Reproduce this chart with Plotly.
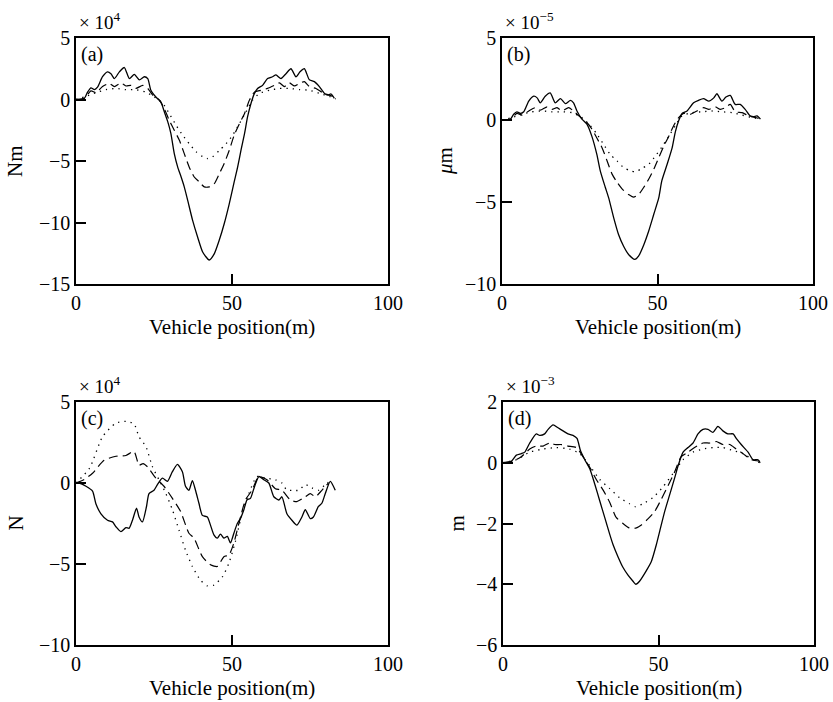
import plotly.graph_objects as go

# ---------------- data (x in m, y in units of the panel multiplier) ----------------
a_solid = [(0,0),(2.7,0.1),(3.7,0.6),(4.8,0.95),(5.9,0.8),(6.9,1.0),(8.5,1.85),(10.1,2.25),(11.2,2.1),(12.3,1.7),
           (13.9,2.25),(15.5,2.6),(17.1,1.7),(18.7,2.05),(20.3,1.6),(21.9,1.85),(23,1.7),(24,0.75),(25.6,0.2),(27.2,-0.2),
           (28.3,-1.0),(29.4,-1.8),(30.4,-2.75),(31.5,-4.4),(32.6,-5.5),(33.7,-6.3),(34.7,-7.1),(35.8,-8.2),(37.4,-9.85),(39,-11.2),
           (40.6,-12.4),(42.7,-13.05),(44.3,-12.55),(45.9,-11.45),(47.5,-10.1),(49.1,-8.5),(50.7,-6.7),(51.8,-5.5),(52.9,-4.1),(54,-2.8),
           (55,-1.4),(56.1,-0.3),(57.2,0.5),(58.2,0.9),(59.8,1.15),(61.4,1.7),(63,1.85),(64.1,2.0),(65.7,1.7),(67.3,2.1),
           (68.9,2.5),(70.5,1.85),(71.8,2.25),(73.2,2.5),(74.8,1.6),(76.4,1.45),(78,1.05),(79.6,0.5),(80.7,0.35),(81.7,0.45),(82.8,0.1)]
a_dash = [(0,0),(2.7,0.1),(4.8,0.7),(6.4,0.55),(8.5,1.05),(10.7,1.3),(12.3,1.05),(14.4,1.35),(16,1.1),(17.6,1.15),
          (19.2,0.9),(21.4,1.15),(23,0.9),(24.6,0.35),(26.7,-0.05),(28.3,-0.75),(29.9,-1.7),(31.5,-2.5),(33.1,-3.3),(34.7,-4.4),
          (36.3,-5.5),(37.9,-6.3),(39.5,-6.7),(41.1,-7.1),(42.7,-7.1),(44.3,-6.85),(45.9,-6.05),(47.5,-5.2),(49.1,-4.15),(50.7,-2.9),
          (52.4,-1.95),(54,-1.15),(55.6,-0.05),(57.2,0.6),(59.3,0.75),(61.4,0.9),(63.6,1.15),(65.2,1.35),(66.8,1.05),(68.4,1.35),
          (70,1.1),(71.6,1.3),(73.2,1.45),(74.8,1.05),(76.9,0.9),(79.1,0.55),(81.2,0.35),(82.3,0.25)]
a_dot = [(0,0),(3.2,0.25),(6.4,0.55),(9.6,0.8),(12.8,0.9),(16,0.8),(19.2,0.8),(22.4,0.6),(25.1,0.2),(27.8,-0.3),
         (29.9,-1.15),(32.1,-2.1),(34.2,-2.9),(36.3,-3.6),(38.5,-4.25),(40.6,-4.65),(42.2,-4.8),(43.8,-4.65),(45.9,-4.15),(48.1,-3.6),
         (50.2,-2.9),(52.4,-1.95),(54.5,-1.0),(56.6,-0.05),(58.8,0.5),(62,0.75),(65.2,0.9),(68.4,0.9),(71.6,0.8),(74.8,0.75),
         (78,0.5),(81.2,0.25),(83.3,0.05)]

b_solid = [(0,0),(2.7,0.05),(3.75,0.35),(4.8,0.5),(5.9,0.4),(7,0.5),(8.6,1.15),(10.2,1.45),(11.3,1.35),(12.3,1.05),
           (13.9,1.45),(15.5,1.65),(17.1,1.05),(18.8,1.3),(20.4,1.0),(22,1.2),(23,1.05),(24.1,0.55),(25.7,0.05),(27.3,-0.25),
           (28.9,-1.0),(30.5,-2.1),(31.6,-3.1),(33.2,-4.1),(34.3,-4.75),(35.9,-5.95),(37.5,-7.0),(39.1,-7.7),(40.7,-8.2),(42.7,-8.5),
           (43.9,-8.3),(45.6,-7.6),(47.2,-6.75),(48.8,-5.75),(50.4,-4.75),(51.4,-3.7),(53.1,-2.7),(54.7,-1.7),(55.7,-0.75),(56.8,-0.05),
           (57.9,0.4),(59.5,0.55),(61.6,1.05),(63.2,1.2),(64.8,1.3),(66.5,1.15),(68.1,1.35),(69.1,1.6),(70.7,1.15),(72,1.4),
           (73.4,1.5),(75,0.95),(76.6,0.95),(78.2,0.65),(79.8,0.25),(80.9,0.2),(82,0.25),(83.1,0.05)]
b_dash = [(0,0),(2.7,0.05),(4.8,0.4),(6.4,0.3),(8.6,0.55),(10.7,0.75),(12.3,0.6),(14.5,0.8),(16.1,0.65),(17.7,0.75),
          (19.3,0.55),(21.4,0.75),(23,0.55),(24.7,0.25),(27.3,-0.15),(28.9,-0.55),(30.5,-1.1),(32.2,-1.7),(33.8,-2.5),(35.4,-3.3),
          (37,-3.8),(38.6,-4.2),(40.7,-4.55),(42.3,-4.7),(43.9,-4.55),(45.6,-4.1),(47.2,-3.6),(48.8,-3.0),(50.4,-2.3),(52,-1.6),
          (53.6,-1.0),(55.2,-0.35),(56.8,0.15),(58.4,0.4),(60.6,0.35),(62.7,0.55),(64.8,0.75),(66.5,0.65),(68.6,0.8),(70.2,0.65),
          (71.8,0.75),(73.4,0.95),(75,0.5),(77.2,0.45),(79.3,0.25),(81.5,0.15),(82.5,0.1)]
b_dot = [(0,0),(3.2,0.15),(6.4,0.35),(9.6,0.5),(12.9,0.55),(16.1,0.5),(19.3,0.5),(22.5,0.45),(25.7,0.15),(28.4,-0.35),
         (30.5,-0.85),(32.7,-1.5),(34.8,-2.1),(37,-2.5),(39.1,-2.9),(41.3,-3.1),(42.9,-3.15),(45,-2.95),(47.2,-2.7),(49.3,-2.2),
         (51.4,-1.65),(53.6,-1.0),(55.7,-0.35),(57.9,0.25),(61.1,0.45),(64.3,0.5),(67.5,0.55),(70.7,0.5),(74,0.45),(77.2,0.3),
         (80.4,0.15),(83.1,0.05)]

c_solid = [(0,0),(1,0),(3.2,-0.2),(5.3,-0.5),(6.4,-1.3),(8,-1.9),(10.1,-2.3),(11.7,-2.4),(12.8,-2.7),(14.4,-3.0),
           (16,-2.75),(17,-2.8),(18.1,-2.3),(19.4,-1.55),(20.2,-2.1),(21.3,-2.4),(22.6,-1.45),(23.4,-0.65),(25,-0.45),(26.1,-0.1),
           (27.7,0.3),(29.3,0.1),(30.9,0.7),(32.5,1.15),(34.1,0.7),(35.1,-0.2),(36.2,-0.45),(37.3,0.15),(38.3,-0.45),(39.4,-1.25),
           (40.5,-2.0),(42.1,-2.1),(43.1,-2.6),(44.2,-3.2),(45.3,-3.4),(46.3,-3.15),(47.4,-3.4),(48.5,-3.3),(49.5,-3.7),(50.6,-3.1),
           (51.7,-2.5),(52.7,-2.2),(53.8,-1.65),(54.8,-1.05),(55.9,-0.95),(57,-0.35),(58.6,0.4),(60.2,0.2),(61.8,0),(63.4,-0.85),
           (65,-1.05),(66,-0.85),(67.6,-1.9),(69.2,-2.3),(70.8,-2.6),(72.4,-2.1),(73.5,-1.65),(75.1,-2.2),(76.1,-2.1),(77.7,-1.45),
           (78.8,-1.25),(79.9,-0.65),(81.5,0.1),(83.1,-0.45)]
c_dash = [(0,0),(2.5,0.2),(5.3,0.6),(9,1.4),(12.8,1.65),(16,1.7),(18.6,1.95),(20.2,1.1),(21.5,1.2),(22.9,1.0),
          (25.6,0.3),(28.2,-0.2),(30.9,-0.95),(33.5,-1.75),(36.2,-3.1),(37.8,-3.4),(40.5,-4.55),(43.1,-5.05),(45.3,-5.15),(47.4,-4.55),
          (49,-4.45),(50.6,-3.7),(52.2,-2.5),(54.3,-1.05),(56.4,-0.45),(58.6,0.4),(61.2,0.2),(63.9,-0.35),(66,-0.45),(68.7,-1.05),
          (70.8,-1.15),(73.5,-0.85),(75.1,-0.65),(76.7,-0.85),(78.8,-0.45),(80.9,0)]
c_dot = [(0,0),(4.3,0.9),(8.5,2.85),(12.8,3.7),(16,3.8),(18.6,3.65),(20.2,2.85),(22.4,2.25),(24.5,1.0),(26.6,0.2),
         (28.8,-0.65),(30.9,-1.65),(33,-2.9),(35.1,-4.15),(37.3,-5.15),(39.9,-6.0),(42.1,-6.35),(44.2,-6.3),(46.9,-5.8),(49,-4.95),
         (51.1,-3.6),(53.2,-1.9),(55.4,-0.65),(58,0.4),(60.7,0.3),(63.9,0.2),(66,0),(67.6,-0.45),(69.2,-0.45),(71.4,-0.45),
         (73.5,-0.1),(75.6,-0.3),(77.7,-0.45),(79.9,-0.1),(80.9,0.05)]

d_solid = [(0,0),(2.7,0.05),(4.3,0.25),(5.9,0.3),(7,0.35),(8.6,0.65),(10.7,0.95),(11.8,0.9),(13.4,0.95),(14.5,1.1),
           (16.1,1.25),(17.7,1.15),(19.3,1.05),(20.9,0.95),(22.5,0.9),(23.8,0.8),(24.9,0.4),(26.3,0.1),(27.9,-0.2),(29.5,-0.7),
           (31.1,-1.25),(32.7,-1.8),(34.3,-2.35),(35.4,-2.7),(37,-3.1),(38.6,-3.45),(40.2,-3.7),(41.8,-3.9),(42.7,-4.0),(43.9,-3.9),
           (46.1,-3.55),(47.7,-3.25),(49.3,-2.7),(50.4,-2.25),(52,-1.6),(53.6,-1.05),(55.2,-0.5),(56.3,-0.1),(57.9,0.35),(59.5,0.5),
           (61.1,0.65),(62.7,0.95),(64.3,1.1),(65.9,1.1),(67.5,1.0),(69.1,1.2),(70.7,1.05),(72.3,0.95),(74,0.95),(75,0.8),
           (76.6,0.6),(78.8,0.35),(80.4,0.1),(82,0.1),(82.7,0.0)]
d_dash = [(0,0),(3.2,0.05),(5.9,0.2),(8.6,0.45),(10.7,0.55),(12.9,0.55),(15,0.65),(16.6,0.6),(18.8,0.6),(20.9,0.55),
          (23.6,0.5),(25.7,0.2),(27.9,-0.15),(30,-0.55),(32.2,-0.9),(34.3,-1.3),(36.4,-1.8),(38.6,-2.0),(40.7,-2.15),(42.7,-2.15),
          (44.5,-2.05),(46.6,-1.85),(48.8,-1.6),(50.9,-1.2),(53.1,-0.75),(55.2,-0.3),(57.3,0.2),(59.5,0.35),(61.6,0.5),(64.3,0.65),
          (66.5,0.65),(68.6,0.7),(70.7,0.6),(72.9,0.6),(75,0.45),(77.2,0.3),(79.9,0.1),(82.5,0.05)]
d_dot = [(0,0),(4.3,0.1),(8.6,0.35),(12.9,0.45),(17.1,0.5),(21.4,0.45),(24.7,0.3),(27.9,-0.1),(31.1,-0.55),(34.3,-0.85),
         (37.5,-1.15),(40.7,-1.35),(42.7,-1.45),(45,-1.35),(48.2,-1.15),(51.4,-0.8),(54.7,-0.35),(57.9,0.1),(61.1,0.35),(64.3,0.45),
         (67.5,0.5),(70.7,0.5),(74,0.4),(77.2,0.3),(80.4,0.1),(82.5,0.0)]

x_ticks = [0, 50, 100]
y_ticks_a = [-15, -10, -5, 0, 5]
y_ticks_b = [-10, -5, 0, 5]
y_ticks_c = [-10, -5, 0, 5]
y_ticks_d = [-6, -4, -2, 0, 2]
panel_labels = ["(a)", "(b)", "(c)", "(d)"]
y_titles = ["Nm", "<i>μ</i>m", "N", "m"]
multipliers = ["× 10<sup>4</sup>", "× 10<sup>−5</sup>", "× 10<sup>4</sup>", "× 10<sup>−3</sup>"]
x_title = "Vehicle position(m)"

# ---------------- layout geometry (pixels of an 833x702 page) ----------------
W, H = 833, 702
boxes = [  # left, right, top, bottom in px
    (76, 388, 38, 284),
    (502, 813, 38, 284),
    (76, 388, 402, 645),
    (503, 814, 402, 645),
]
FONT = "Liberation Serif, Times New Roman, serif"

fig = go.Figure()
series = [(a_solid, a_dash, a_dot), (b_solid, b_dash, b_dot), (c_solid, c_dash, c_dot), (d_solid, d_dash, d_dot)]
yticks = [y_ticks_a, y_ticks_b, y_ticks_c, y_ticks_d]
styles = [dict(dash="solid", width=1.3), dict(dash="9px,5px", width=1.2), dict(dash="1.3px,5px", width=1.3)]

for i, (sets, yt, box) in enumerate(zip(series, yticks, boxes)):
    n = "" if i == 0 else str(i + 1)
    for pts, st in zip(sets, styles):
        fig.add_trace(go.Scatter(
            x=[p[0] for p in pts], y=[p[1] for p in pts], mode="lines",
            line=dict(color="black", shape="spline", smoothing=0.6, **st),
            xaxis="x" + n, yaxis="y" + n, showlegend=False, hoverinfo="skip"))
    l, r, t, b = box
    common = dict(showline=True, linecolor="black", linewidth=1.6, mirror=True,
                  ticks="inside", ticklen=10, tickwidth=1.6, tickcolor="black",
                  showgrid=False, zeroline=False, automargin=False,
                  tickfont=dict(family=FONT, size=20, color="black"))
    fig.update_layout(**{
        "xaxis" + n: dict(domain=[l / W, r / W], range=[0, 100], tickvals=x_ticks,
                          anchor="y" + n, **common),
        "yaxis" + n: dict(domain=[1 - b / H, 1 - t / H], range=[yt[0], yt[-1]], tickvals=yt,
                          anchor="x" + n, **common),
    })
    # x-axis title
    fig.add_annotation(x=(l + r) / 2 / W, y=1 - (b + 43) / H, xref="paper", yref="paper",
                       text=x_title, showarrow=False, font=dict(family=FONT, size=21, color="black"),
                       xanchor="center", yanchor="middle")
    # y-axis title
    yx = [15, 445, 15, 456][i]
    fig.add_annotation(x=yx / W, y=1 - (t + b) / 2 / H, xref="paper", yref="paper",
                       text=y_titles[i], textangle=-90, showarrow=False,
                       font=dict(family=FONT, size=21, color="black"),
                       xanchor="center", yanchor="middle")
    # panel letter
    fig.add_annotation(x=(l + 3) / W, y=1 - (t + 17) / H, xref="paper", yref="paper",
                       text=panel_labels[i], showarrow=False,
                       font=dict(family=FONT, size=20, color="black"),
                       xanchor="left", yanchor="middle")
    # multiplier
    fig.add_annotation(x=(l + 1) / W, y=1 - (t - 17) / H, xref="paper", yref="paper",
                       text=multipliers[i], showarrow=False,
                       font=dict(family=FONT, size=19, color="black"),
                       xanchor="left", yanchor="middle")

fig.update_layout(template="none", width=W, height=H, margin=dict(l=0, r=0, t=0, b=0, autoexpand=False),
                  paper_bgcolor="white", plot_bgcolor="white",
                  font=dict(family=FONT, color="black"))
fig.write_html("out.html", config={"displayModeBar": False},
               post_script="document.body.style.margin='0px';document.body.style.overflow='hidden';")
